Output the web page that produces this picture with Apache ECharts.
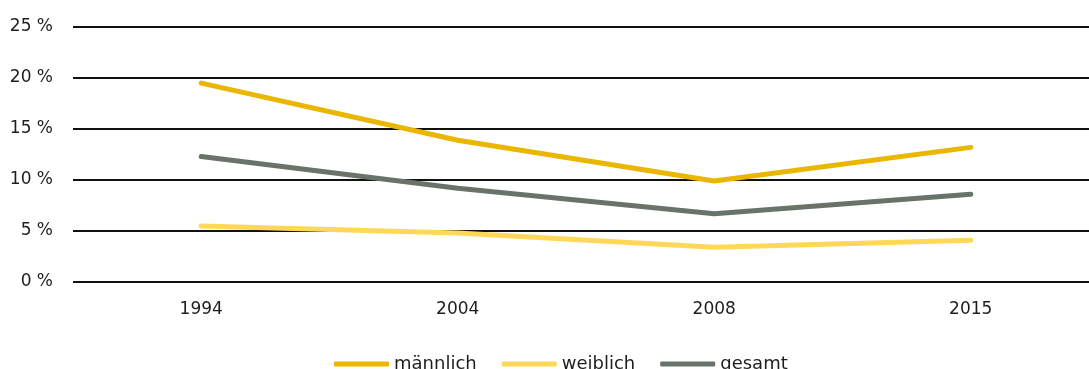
<!DOCTYPE html>
<html>
<head>
<meta charset="utf-8">
<script src="https://cdn.jsdelivr.net/npm/echarts@6/dist/echarts.min.js"></script>
<style>
  html, body { margin: 0; padding: 0; background: #fff; }
  #chart { width: 1089px; height: 369px; }
</style>
</head>
<body>
<div id="chart"></div>
<script>
// Anteil nach Geschlecht, Erhebungsjahre 1994–2015 (in Prozent)
const years = ['1994', '2004', '2008', '2015'];
const maennlich = [19.5, 13.9, 9.9, 13.2];
const weiblich = [5.5, 4.8, 3.4, 4.1];
const gesamt = [12.3, 9.2, 6.7, 8.6];
const seriesNames = ['männlich', 'weiblich', 'gesamt'];
const seriesColors = ['#EAB600', '#FFD857', '#68736A'];

const font = 'DejaVu Sans';
const chart = echarts.init(document.getElementById('chart'));

const lineSeries = [maennlich, weiblich, gesamt].map((values, i) => ({
  name: seriesNames[i],
  type: 'line',
  data: values,
  symbol: 'none',
  smooth: false,
  lineStyle: { color: seriesColors[i], width: 5, cap: 'round', join: 'round' },
  itemStyle: { color: seriesColors[i] },
  z: i === 1 ? 2 : 3
}));

chart.setOption({
  animation: false,
  backgroundColor: '#ffffff',
  textStyle: { fontFamily: font },
  // the plot runs a little past the right edge of the canvas
  grid: {
    left: 73, right: -10, top: 27, bottom: 87,
    containLabel: false,
    outerBoundsMode: 'none'
  },
  xAxis: {
    type: 'category',
    data: years,
    boundaryGap: true,
    axisLine: { show: false },
    axisTick: { show: false },
    axisLabel: { color: '#1e1e1e', fontSize: 17, fontFamily: font, margin: 19 }
  },
  yAxis: {
    type: 'value',
    min: 0,
    max: 25,
    interval: 5,
    axisLine: { show: false },
    axisTick: { show: false },
    axisLabel: {
      color: '#1e1e1e',
      fontSize: 17,
      fontFamily: font,
      margin: 20,
      formatter: v => v + ' %'
    },
    splitLine: { lineStyle: { color: '#111', width: 2 } }
  },
  legend: {
    data: seriesNames,
    left: 329,
    top: 348,
    icon: 'roundRect',
    itemWidth: 55,
    itemHeight: 5,
    itemGap: 25,
    textStyle: { color: '#1e1e1e', fontSize: 18, fontFamily: font, lineHeight: 22 }
  },
  color: seriesColors,
  series: lineSeries
});
</script>
</body>
</html>
